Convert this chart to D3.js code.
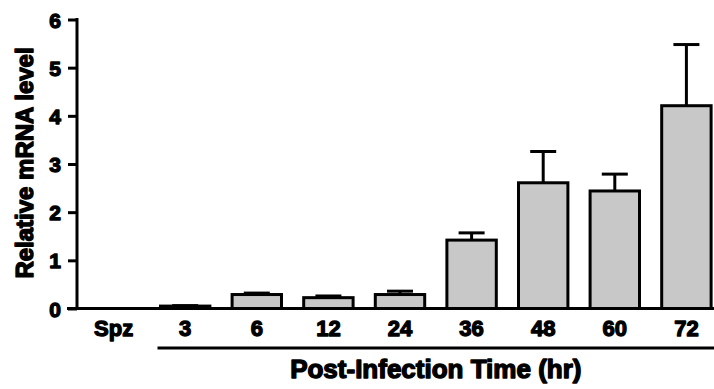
<!DOCTYPE html>
<html>
<head>
<meta charset="utf-8">
<script src="https://cdn.jsdelivr.net/npm/d3@7"></script>
<style>
  body { margin: 0; background: #fff; }
  text { font-family: "Liberation Sans", Arial, sans-serif; font-weight: bold; fill: #000; stroke: #000; stroke-linejoin: round; }
</style>
</head>
<body>
<div id="chart"></div>
<script>
// data
var categories = ["Spz", "3", "6", "12", "24", "36", "48", "60", "72"];
var meanValues = [0, 0.05, 0.29, 0.225, 0.29, 1.42, 2.61, 2.44, 4.21];
var errValues  = [0, 0.01, 0.03, 0.035, 0.07, 0.15, 0.65, 0.35, 1.27];
var yTicks = [0, 1, 2, 3, 4, 5, 6];

var containerWidth = 714,
    containerHeight = 389;

var svg = d3.select("#chart")
    .append("svg")
    .attr("width", containerWidth)
    .attr("height", containerHeight);

// scales
var x = d3.scaleBand()
    .domain(categories)
    .range([77.8, 722.2])
    .paddingInner(0.31)
    .paddingOuter(0.155);

var y = d3.scaleLinear()
    .domain([0, 6])
    .range([308.5, 19.5]);

// bars
svg.selectAll("rect.bar")
    .data(categories)
    .enter().append("rect")
    .attr("class", "bar")
    .attr("x", function(d) { return x(d); })
    .attr("width", x.bandwidth())
    .attr("y", function(d, i) { return y(meanValues[i]); })
    .attr("height", function(d, i) { return y(0) - y(meanValues[i]); })
    .attr("fill", "#c8c8c8")
    .attr("stroke", "#000")
    .attr("stroke-width", 3)
    .style("display", function(d, i) { return meanValues[i] > 0 ? null : "none"; });

// error bars (upper only)
var errG = svg.append("g");
categories.forEach(function(d, i) {
    if (meanValues[i] <= 0) return;
    var cx = x(d) + x.bandwidth() / 2;
    errG.append("line")
        .attr("x1", cx).attr("x2", cx)
        .attr("y1", y(meanValues[i])).attr("y2", y(meanValues[i] + errValues[i]))
        .attr("stroke", "#000").attr("stroke-width", 3);
    errG.append("line")
        .attr("x1", cx - 13).attr("x2", cx + 13)
        .attr("y1", y(meanValues[i] + errValues[i])).attr("y2", y(meanValues[i] + errValues[i]))
        .attr("stroke", "#000").attr("stroke-width", 3);
});

// y axis
var yAxis = svg.append("g")
    .attr("transform", "translate(77,0)")
    .call(d3.axisLeft(y).tickValues(yTicks).tickFormat(d3.format("d")).tickSize(9).tickPadding(7).tickSizeOuter(0));
yAxis.select(".domain").attr("stroke-width", 3).attr("d", "M0," + (y(0) + 1.5) + "V" + (y(6) - 1.5));
yAxis.selectAll(".tick line").attr("stroke-width", 3);
yAxis.selectAll(".tick text")
    .style("font-size", "21px")
    .attr("stroke-width", 1.3)
    .attr("dy", "0.36em");

// x baseline
svg.append("line")
    .attr("x1", 67).attr("x2", containerWidth)
    .attr("y1", y(0)).attr("y2", y(0))
    .attr("stroke", "#000").attr("stroke-width", 3);

// x labels
svg.selectAll("text.xlab")
    .data(categories)
    .enter().append("text")
    .attr("class", "xlab")
    .attr("x", function(d) { return x(d) + x.bandwidth() / 2; })
    .attr("y", 336)
    .attr("text-anchor", "middle")
    .style("font-size", "22px")
    .attr("stroke-width", 1.3)
    .text(function(d) { return d; });

// bracket under post-infection times
svg.append("line")
    .attr("x1", x(categories[1]) - 3).attr("x2", containerWidth)
    .attr("y1", 348).attr("y2", 348)
    .attr("stroke", "#000").attr("stroke-width", 3);

// axis titles
var midX = (x(categories[1]) + x(categories[categories.length - 1]) + x.bandwidth()) / 2;
svg.append("text")
    .attr("x", midX)
    .attr("y", 378)
    .attr("text-anchor", "middle")
    .style("font-size", "26px")
    .attr("stroke-width", 1.4)
    .text("Post-Infection Time (hr)");

svg.append("text")
    .attr("transform", "translate(33,163) rotate(-90)")
    .attr("text-anchor", "middle")
    .style("font-size", "24px")
    .attr("stroke-width", 1.4)
    .text("Relative mRNA level");
</script>
</body>
</html>
